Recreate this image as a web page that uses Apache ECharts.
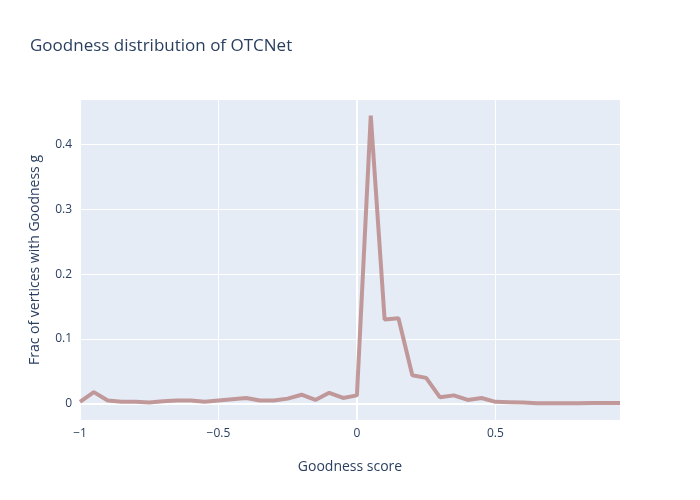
<!DOCTYPE html><html><head><meta charset="utf-8"><script src="https://cdn.jsdelivr.net/npm/echarts@6/dist/echarts.min.js"></script></head><body style="margin:0"><div id="c" style="width:700px;height:500px"></div><script>
const xs=[-1,-0.95,-0.9,-0.85,-0.8,-0.75,-0.7,-0.65,-0.6,-0.55,-0.5,-0.45,-0.4,-0.35,-0.3,-0.25,-0.2,-0.15,-0.1,-0.05,0,0.05,0.1,0.15,0.2,0.25,0.3,0.35,0.4,0.45,0.5,0.55,0.6,0.65,0.7,0.75,0.8,0.85,0.9,0.95];
const ys=[0.003,0.018,0.005,0.003,0.003,0.002,0.004,0.005,0.005,0.003,0.005,0.007,0.009,0.005,0.005,0.008,0.014,0.006,0.017,0.009,0.013,0.445,0.13,0.132,0.044,0.04,0.01,0.013,0.006,0.009,0.003,0.0025,0.002,0.001,0.001,0.001,0.001,0.0012,0.0012,0.0012];
const yTicks=[0,0.1,0.2,0.3,0.4];
const xTicks=[-1,-0.5,0,0.5];
const fmt=v=>(v<0?'\u2212'+(-v):String(v));
const ch=echarts.init(document.getElementById('c'));
const tc='#2a3f5f';
ch.setOption({backgroundColor:'#fff',animation:false,
title:{text:'Goodness distribution of OTCNet',left:25,top:33,textStyle:{color:tc,fontSize:17,fontWeight:'normal',fontFamily:'Open Sans'}},
grid:{left:80,right:80,top:100,bottom:80,show:true,backgroundColor:'#E5ECF6',borderWidth:0},
xAxis:{type:'value',min:-1,max:0.95,name:'Goodness score',nameLocation:'middle',nameGap:40,nameTextStyle:{color:tc,fontSize:14,fontFamily:'Open Sans'},
 axisLine:{show:false},axisTick:{show:false,customValues:xTicks},axisLabel:{customValues:xTicks,formatter:fmt,color:tc,fontSize:12,fontFamily:'Open Sans'},splitLine:{lineStyle:{color:'#fff',width:1}}},
yAxis:{type:'value',min:-0.025,max:0.469,name:'Frac of vertices with Goodness g',nameLocation:'middle',nameGap:38,nameTextStyle:{color:tc,fontSize:14,fontFamily:'Open Sans'},
 axisLine:{show:false},axisTick:{show:false,customValues:yTicks},axisLabel:{customValues:yTicks,formatter:fmt,color:tc,fontSize:12,fontFamily:'Open Sans'},splitLine:{lineStyle:{color:'#fff',width:1}}},
series:[{type:'line',data:xs.map((x,i)=>[x,ys[i]]),showSymbol:false,lineStyle:{color:'#BC8F8F',width:4,opacity:0.9},
 markLine:{silent:true,symbol:'none',label:{show:false},lineStyle:{color:'#fff',width:2,type:'solid'},data:[{xAxis:0},{yAxis:0}],z:1},z:3}]
});
</script></body></html>
